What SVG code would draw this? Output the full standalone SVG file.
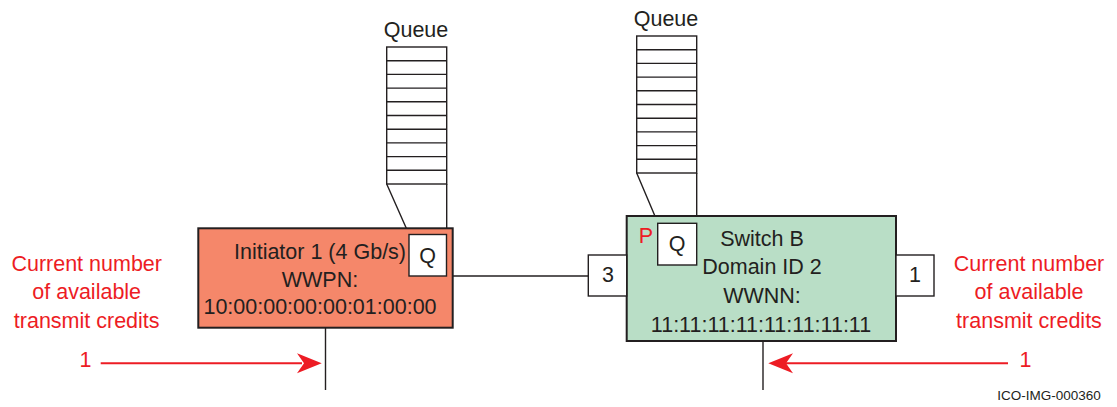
<svg xmlns="http://www.w3.org/2000/svg" width="1117" height="407" viewBox="0 0 1117 407">
<style>
text{font-family:"Liberation Sans",Arial,sans-serif;fill:#231f20;text-anchor:middle}
.t{font-size:21.5px}
.r{fill:#ed1c24}
.box{stroke:#231f20;stroke-width:2}
.ln{stroke:#231f20;stroke-width:1.4;fill:none}
.q{fill:#fff;stroke:#231f20;stroke-width:1.4}
.arr{stroke:#ed1c24;stroke-width:2;fill:none}
.ah{fill:#ed1c24}
</style>
<defs>
<g id="cells">
<rect x="0" y="0" width="60" height="137" class="q"/>
<path class="ln" d="M0 13.7H60M0 27.4H60M0 41.1H60M0 54.8H60M0 68.5H60M0 82.2H60M0 95.9H60M0 109.6H60M0 123.3H60"/>
</g>
</defs>
<g id="connectors">
<line class="ln" x1="453" y1="276" x2="588" y2="276"/>
<line class="ln" x1="325.5" y1="328" x2="325.5" y2="390"/>
<line class="ln" x1="763" y1="341" x2="763" y2="390"/>
<path class="ln" d="M386.7 184L409.3 235M446.7 184V235"/>
<path class="ln" d="M636.7 173L658 223.3M696.7 173V223.3"/>
<line class="arr" x1="100.7" y1="363.3" x2="302" y2="363.3"/>
<path class="ah" d="M321.7 363.3L297 353.3L304 363.3L297 373.3Z"/>
<line class="arr" x1="785" y1="363.3" x2="1008" y2="363.3"/>
<path class="ah" d="M768.3 363.3L793 353.3L786 363.3L793 373.3Z"/>
</g>
<g id="queue-left">
<use href="#cells" x="386.7" y="47"/>
<text class="t" x="416" y="36.7">Queue</text>
</g>
<g id="queue-right">
<use href="#cells" x="636.7" y="36"/>
<text class="t" x="666" y="26">Queue</text>
</g>
<g id="initiator">
<rect x="198.3" y="228.3" width="254.4" height="99.4" fill="#f5876a" class="box"/>
<text class="t" x="320" y="259.3">Initiator 1 (4 Gb/s)</text>
<text class="t" x="320" y="286.5">WWPN:</text>
<text class="t" x="320" y="314.3">10:00:00:00:00:01:00:00</text>
</g>
<g id="initiator-q">
<rect x="409" y="234.5" width="37.5" height="41.5" class="q" stroke-width="2"/>
<text class="t" x="427.7" y="262.7">Q</text>
</g>
<g id="switch">
<rect x="626.7" y="216" width="269.3" height="125" fill="#b9dec6" class="box"/>
<text class="t r" x="646" y="243">P</text>
<text class="t" x="762" y="246">Switch B</text>
<text class="t" x="762" y="274.3">Domain ID 2</text>
<text class="t" x="762" y="302.7">WWNN:</text>
<text class="t" x="761" y="331.7">11:11:11:11:11:11:11:11</text>
</g>
<g id="switch-q">
<rect x="657.7" y="223.3" width="39" height="41.7" class="q" stroke-width="2"/>
<text class="t" x="677" y="250.5">Q</text>
</g>
<g id="port3">
<rect x="588.3" y="255" width="38.4" height="41" class="q" stroke-width="2"/>
<text class="t" x="608" y="282">3</text>
</g>
<g id="port1">
<rect x="896" y="255" width="38" height="41" class="q" stroke-width="2"/>
<text class="t" x="915" y="282">1</text>
</g>
<g id="label-left">
<text class="t r" x="86.7" y="270.7">Current number</text>
<text class="t r" x="86.7" y="299.3">of available</text>
<text class="t r" x="86.7" y="327.5">transmit credits</text>
<text class="t r" x="85.5" y="366.7">1</text>
</g>
<g id="label-right">
<text class="t r" x="1029" y="270.7">Current number</text>
<text class="t r" x="1029" y="299.3">of available</text>
<text class="t r" x="1029" y="327.5">transmit credits</text>
<text class="t r" x="1025.5" y="366.7">1</text>
</g>
<text x="1049" y="400" font-size="13.5">ICO-IMG-000360</text>
</svg>
